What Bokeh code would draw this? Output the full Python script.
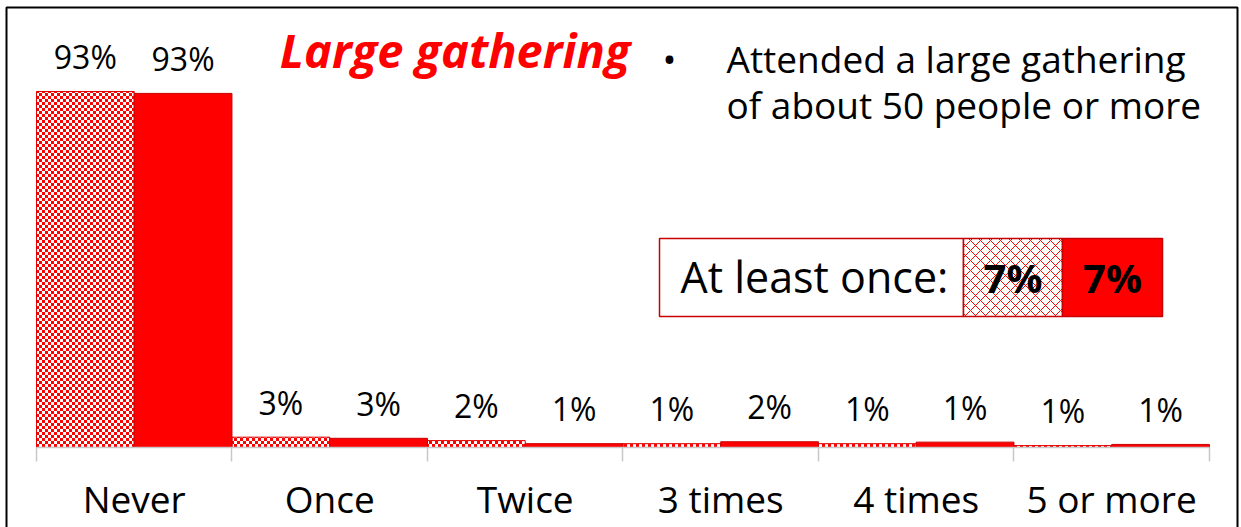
import numpy as np
from bokeh.plotting import figure
from bokeh.models import (Range1d, FixedTicker, LinearAxis, Label, BoxAnnotation,
                          CanvasTexture, ColumnDataSource)
from bokeh.core.properties import value
from bokeh.embed import file_html
from bokeh.resources import INLINE

# ---------------- data ----------------
categories = ["Never", "Once", "Twice", "3 times", "4 times", "5 or more"]
series_hatched = [93.0, 2.7, 1.8, 1.0, 1.0, 0.5]
series_solid = [92.5, 2.4, 1.0, 1.5, 1.4, 0.8]
labels_hatched = ["93%", "3%", "2%", "1%", "1%", "1%"]
labels_solid = ["93%", "3%", "1%", "2%", "1%", "1%"]
title_text = "Large gathering"
note_lines = ["Attended a large gathering", "of about 50 people or more"]
summary_label = "At least once:"
summary_hatched = "7%"
summary_solid = "7%"

RED = "#FF0000"
DARK_RED = "#C80000"
GREY = "#C8C8C8"
FONT = "Open Sans"

n = len(categories)
x_hatched = [i + 0.25 for i in range(n)]
x_solid = [i + 0.75 for i in range(n)]
centers = [i + 0.5 for i in range(n)]
bounds = [float(i) for i in range(n + 1)]

src = ColumnDataSource(dict(cat=categories, xa=x_hatched, xb=x_solid,
                            a=series_hatched, b=series_solid,
                            la=labels_hatched, lb=labels_solid))

W, H = 1241, 527
p = figure(width=W, height=H,
           x_range=Range1d(-0.184, n + 0.164), y_range=Range1d(-20.90, 116.77),
           output_backend="svg", toolbar_location=None,
           x_axis_location=None, y_axis_location=None,
           min_border_left=0, min_border_right=0, min_border_top=0, min_border_bottom=0)
p.grid.visible = False
p.outline_line_color = None
p.background_fill_color = "white"
p.border_fill_color = "white"

ax = LinearAxis(ticker=FixedTicker(ticks=centers, minor_ticks=bounds),
                major_label_overrides={c: cat for c, cat in zip(centers, categories)},
                fixed_location=0, bounds=(0, n))
ax.axis_line_color = GREY
ax.axis_line_width = 1.5
ax.major_tick_line_color = None
ax.major_tick_out = 0
ax.major_tick_in = 0
ax.minor_tick_line_color = GREY
ax.minor_tick_line_width = 1.5
ax.minor_tick_out = 14
ax.minor_tick_in = 0
ax.major_label_text_font = FONT
ax.major_label_text_font_size = "37px"
ax.major_label_text_color = "black"
ax.major_label_standoff = 12
p.add_layout(ax, "below")

checker = CanvasTexture(code="""
try {
  const c = ctx.canvas;
  if (c && c.width < 6) { c.width = 6; c.height = 6; }
} catch (e) {}
ctx.fillStyle = "#ff0000";
ctx.fillRect(0, 0, 3, 3);
ctx.fillRect(3, 3, 3, 3);
""")

p.vbar(x="xa", top="a", bottom=0, width=0.5, source=src,
       fill_color="white", line_color="#E00000", line_width=1,
       hatch_pattern=value("checker"), hatch_extra={"checker": checker},
       hatch_color=RED, hatch_scale=6)
p.vbar(x="xb", top="b", bottom=0, width=0.5, source=src,
       fill_color=RED, line_color=DARK_RED, line_width=1)

p.text(x="xa", y="a", text="la", source=src, y_offset=-35,
       text_align="center", text_baseline="alphabetic",
       text_font=value(FONT), text_font_size="32px", text_color="black")
p.text(x="xb", y="b", text="lb", source=src, y_offset=-35,
       text_align="center", text_baseline="alphabetic",
       text_font=value(FONT), text_font_size="32px", text_color="black")

# outer border (left, top, right; bottom side pushed off the canvas)
p.add_layout(BoxAnnotation(left=6, right=1237, top=520, bottom=-20,
                           left_units="screen", right_units="screen",
                           top_units="screen", bottom_units="screen",
                           fill_alpha=0, line_color="black", line_alpha=1, line_width=2))

# title and note (screen units: x from left edge, y from bottom edge)
p.add_layout(Label(x=454.5, y=478, x_units="screen", y_units="screen", text=title_text,
                   text_align="center", text_baseline="alphabetic",
                   text_font=FONT, text_font_size="47px", text_font_style="bold italic",
                   text_color=RED))
p.add_layout(Label(x=669, y=469, x_units="screen", y_units="screen", text="\u2022",
                   text_align="center", text_baseline="alphabetic",
                   text_font=FONT, text_font_size="37px", text_color="black"))
for line, yy in zip(note_lines, [469, 423]):
    p.add_layout(Label(x=726, y=yy, x_units="screen", y_units="screen", text=line,
                       text_align="left", text_baseline="alphabetic",
                       text_font=FONT, text_font_size="37px", text_color="black"))

# summary box
box_kw = dict(left_units="screen", right_units="screen", top_units="screen",
              bottom_units="screen", bottom=211, top=289,
              line_color=DARK_RED, line_alpha=1, line_width=1.5)
p.add_layout(BoxAnnotation(left=659, right=963, fill_color="white", fill_alpha=1, **box_kw))
p.add_layout(BoxAnnotation(left=963, right=1062, fill_color="white", fill_alpha=1,
                           hatch_pattern="diagonal_cross", hatch_color=RED,
                           hatch_scale=10, hatch_weight=1, hatch_alpha=1, **box_kw))
p.add_layout(BoxAnnotation(left=1062, right=1162, fill_color=RED, fill_alpha=1, **box_kw))

p.add_layout(Label(x=680, y=251, x_units="screen", y_units="screen", text=summary_label,
                   text_align="left", text_baseline="alphabetic",
                   text_font=FONT, text_font_size="43px", text_color="black"))
p.add_layout(Label(x=1012.5, y=250, x_units="screen", y_units="screen", text=summary_hatched,
                   text_align="center", text_baseline="alphabetic",
                   text_font=FONT, text_font_size="40px", text_font_style="bold",
                   text_color="black"))
p.add_layout(Label(x=1112, y=250, x_units="screen", y_units="screen", text=summary_solid,
                   text_align="center", text_baseline="alphabetic",
                   text_font=FONT, text_font_size="40px", text_font_style="bold",
                   text_color="black"))

open("out.html", "w").write(file_html(p, INLINE))
